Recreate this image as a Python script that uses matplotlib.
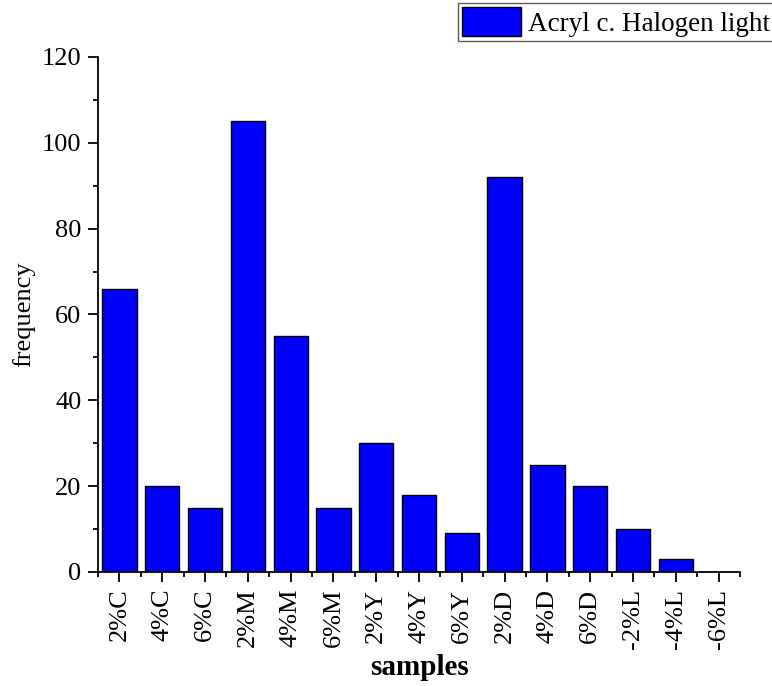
import matplotlib
matplotlib.use("Agg")
import matplotlib.pyplot as plt
from matplotlib.ticker import MultipleLocator, FixedLocator

categories = ["2%C", "4%C", "6%C", "2%M", "4%M", "6%M", "2%Y", "4%Y", "6%Y",
              "2%D", "4%D", "6%D", "-2%L", "-4%L", "-6%L"]
values = [66, 20, 15, 105, 55, 15, 30, 18, 9, 92, 25, 20, 10, 3, 0]
series_name = "Acryl c. Halogen light"

plt.rcParams['font.family'] = ['Liberation Serif', 'DejaVu Serif']

fig = plt.figure(figsize=(7.72, 6.86), dpi=100)
ax = fig.add_axes([0.127, 0.1662, 0.8315, 0.7508])

x = list(range(len(categories)))
bars = ax.bar(x, values, width=0.8, color="#0000ff", edgecolor="black",
              linewidth=1.0, label=series_name)

ax.set_xlim(-0.5, len(categories) - 0.5)
ax.set_ylim(0, 120)
ax.set_xticks(x)
ax.set_xticklabels(categories, rotation=90)
ax.xaxis.set_minor_locator(FixedLocator([i + 0.5 for i in range(-1, len(categories))]))
ax.yaxis.set_major_locator(MultipleLocator(20))
ax.yaxis.set_minor_locator(MultipleLocator(10))
ax.tick_params(axis='both', which='major', direction='out', length=7, width=1.3,
               labelsize=19, pad=5)
ax.tick_params(axis='both', which='minor', direction='out', length=3.5, width=1.3)

for s in ['top', 'right']:
    ax.spines[s].set_visible(False)
for s in ['left', 'bottom']:
    ax.spines[s].set_linewidth(1.3)

ax.set_ylabel("frequency", fontsize=19, labelpad=5)
ax.set_xlabel("samples", fontsize=21, fontweight='bold', labelpad=4)

leg = fig.legend(loc='upper right', bbox_to_anchor=(1.003, 0.996), fontsize=19.5,
                 frameon=True, fancybox=False, handlelength=2.2, handleheight=1.3,
                 borderpad=0.15, handletextpad=0.25, borderaxespad=0)
leg.get_frame().set_edgecolor("#333333")
leg.get_frame().set_linewidth(1.0)

fig.savefig("out.png", dpi=100)
